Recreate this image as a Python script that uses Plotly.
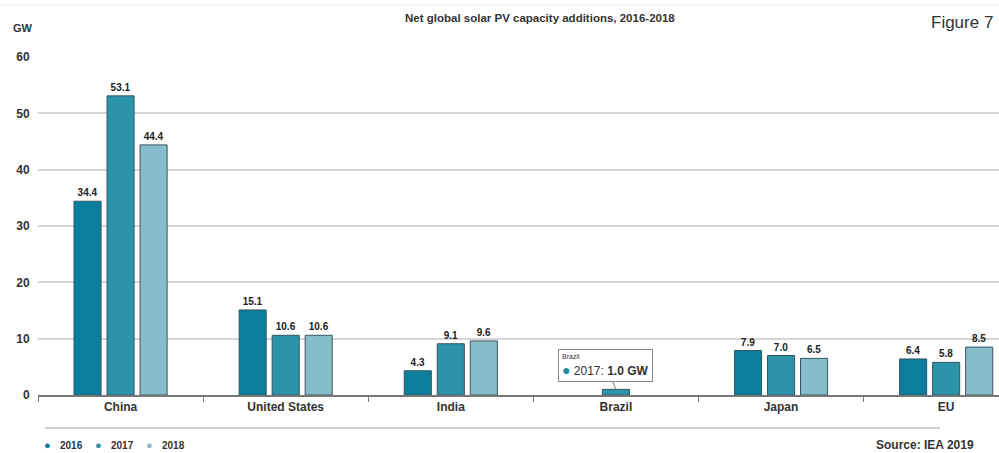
import plotly.graph_objects as go

# Net solar PV capacity additions (GW)
regions = ["China", "United States", "India", "Brazil", "Japan", "EU"]
years = ["2016", "2017", "2018"]
gw_2016 = [34.4, 15.1, 4.3, None, 7.9, 6.4]
gw_2017 = [53.1, 10.6, 9.1, 1.0, 7.0, 5.8]
gw_2018 = [44.4, 10.6, 9.6, None, 6.5, 8.5]
y_ticks = [0, 10, 20, 30, 40, 50, 60]

colors = ["#0b7e9e", "#2c93ab", "#87bccb"]
series = [gw_2016, gw_2017, gw_2018]

FONT = "Liberation Sans, Arial, sans-serif"
W, H = 999, 453
ML, MR, MT, MB = 38, 0, 57, 58
PW, PH = W - ML - MR, H - MT - MB


def px(x):
    """Horizontal pixel -> paper coordinate."""
    return (x - ML) / PW


def py(y):
    """Vertical pixel -> paper coordinate."""
    return (H - MB - y) / PH


fig = go.Figure()

for yr, vals, col in zip(years, series, colors):
    fig.add_trace(go.Bar(
        x=regions, y=vals, name=yr, marker_color=col,
        marker_line=dict(color="#35565f", width=1),
        text=[("" if v is None or (yr == "2017" and r == "Brazil") else f"{v:.1f}")
              for r, v in zip(regions, vals)],
        textposition="outside", cliponaxis=False,
        textfont=dict(family=FONT, size=10, color="#222222", weight="bold"),
        showlegend=False,
    ))

fig.update_layout(
    width=W, height=H,
    margin=dict(l=ML, r=MR, t=MT, b=MB),
    paper_bgcolor="white", plot_bgcolor="white",
    barmode="group", bargap=0.4, bargroupgap=0.18,
    font=dict(family=FONT, color="#333333"),
    showlegend=False,
    xaxis=dict(
        type="category", range=[-0.5, 5.32],
        tickson="boundaries", ticks="outside", ticklen=5, tickcolor="#777777",
        showline=True, linecolor="#777777", linewidth=1.5, showgrid=False,
        tickfont=dict(family=FONT, size=12, color="#333333", weight="bold"),
    ),
    yaxis=dict(
        range=[0, 60], tickvals=y_ticks, showgrid=True, gridcolor="#d6d6d6",
        gridwidth=1.5, zeroline=False, ticks="outside", ticklen=5,
        tickcolor="rgba(0,0,0,0)",
        tickfont=dict(family=FONT, size=12, color="#333333", weight="bold"),
    ),
)

# Legend row: coloured dots with year labels
for i, (yr, col) in enumerate(zip(years, colors)):
    x0 = 47 + i * 51
    fig.add_annotation(text="●", xref="paper", yref="paper", x=px(x0), y=py(445),
                       xanchor="center", yanchor="middle", showarrow=False,
                       font=dict(family=FONT, size=11, color=col))
    fig.add_annotation(text=f"<b>{yr}</b>", xref="paper", yref="paper", x=px(x0 + 11),
                       y=py(445), xanchor="left", yanchor="middle", showarrow=False,
                       font=dict(family=FONT, size=10, color="#333333"))

# Chart title, unit, figure number, source
fig.add_annotation(text="<b>Net global solar PV capacity additions, 2016-2018</b>",
                   xref="paper", yref="paper", x=px(540), y=py(18),
                   yanchor="middle", showarrow=False,
                   font=dict(family=FONT, size=11.5, color="#333333"))
fig.add_annotation(text="<b>GW</b>", xref="paper", yref="paper", x=px(11), y=py(28),
                   xanchor="left", yanchor="middle", showarrow=False,
                   font=dict(family=FONT, size=11, color="#333333"))
fig.add_annotation(text="Figure 7", xref="paper", yref="paper", x=px(995), y=py(22),
                   xanchor="right", yanchor="middle", showarrow=False,
                   font=dict(family=FONT, size=17, color="#333333"))
fig.add_annotation(text="<b>Source: IEA 2019</b>", xref="paper", yref="paper",
                   x=px(976), y=py(445), xanchor="right", yanchor="middle",
                   showarrow=False, font=dict(family=FONT, size=12, color="#333333"))

# Hover-style callout for the Brazil 2017 bar
fig.add_annotation(
    text=("<span style='font-size:7px'>Brazil</span><br>"
          "<span style='color:#1f8aa5;font-size:14px'>●</span> 2017: <b>1.0 GW</b>"),
    x="Brazil", y=1.0, xref="x", yref="y", showarrow=True,
    ax=-10, ay=-24, arrowhead=0, arrowwidth=1, arrowcolor="#888888",
    align="left", bgcolor="white", bordercolor="#888888", borderwidth=1, borderpad=3,
    font=dict(family=FONT, size=12, color="#333333"),
)

# Separator above legend and faint top rule
fig.add_shape(type="line", xref="paper", yref="paper", x0=px(45), x1=px(940),
              y0=py(428), y1=py(428), line=dict(color="#d0d0d0", width=2))
fig.add_shape(type="line", xref="paper", yref="paper", x0=px(0), x1=px(999),
              y0=py(5), y1=py(5), line=dict(color="#efefef", width=1))

fig.write_html("out.html")
